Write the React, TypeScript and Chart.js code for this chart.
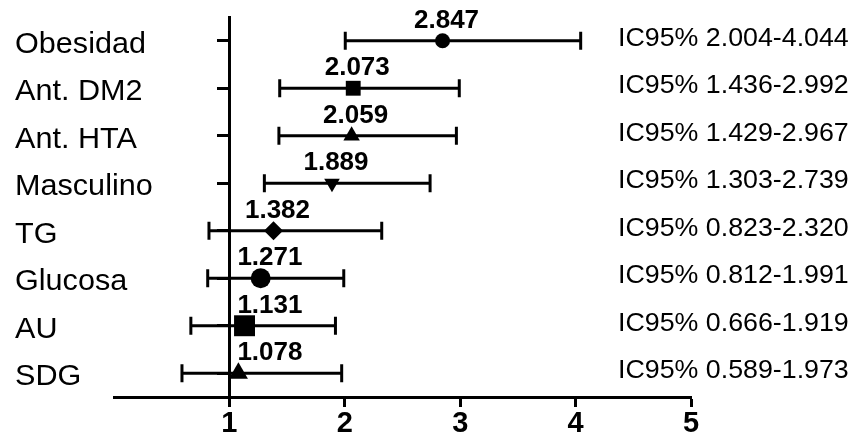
import React, { useEffect, useRef } from "react";
import { Chart, registerables } from "chart.js";

Chart.register(...registerables);

const categories = ["Obesidad", "Ant. DM2", "Ant. HTA", "Masculino", "TG", "Glucosa", "AU", "SDG"];
const oddsRatios = [2.847, 2.073, 2.059, 1.889, 1.382, 1.271, 1.131, 1.078];
const ciLower = [2.004, 1.436, 1.429, 1.303, 0.823, 0.812, 0.666, 0.589];
const ciUpper = [4.044, 2.992, 2.967, 2.739, 2.32, 1.991, 1.919, 1.973];
const xTicks = [1, 2, 3, 4, 5];

const markerStyles = ["circle", "rect", "triangle", "triangle", "rectRot", "circle", "rect", "triangle"];
const markerRadii = [7.5, 10.5, 9.5, 9, 9.5, 10, 14.8, 11];
const markerRotations = [0, 0, 0, 180, 0, 0, 0, 0];

const FONT = "'Liberation Sans', Arial, Helvetica, sans-serif";
const rowOf = (i: number) => categories.length - i;

function drawText(ctx: CanvasRenderingContext2D, text: string, x: number, y: number, font: string, sx: number, align: CanvasTextAlign) {
  ctx.save();
  ctx.font = font;
  ctx.translate(x, y);
  ctx.scale(sx, 1);
  ctx.textAlign = align;
  ctx.textBaseline = "alphabetic";
  ctx.fillStyle = "#000";
  ctx.fillText(text, 0, 0);
  ctx.restore();
}

const labelsPlugin = {
  id: "forestLabels",
  afterDatasetsDraw(chart: any) {
    const ctx: CanvasRenderingContext2D = chart.ctx;
    const xs = chart.scales.x;
    const ys = chart.scales.y;
    const axisX = xs.getPixelForValue(1);
    const catFont = `30px ${FONT}`;
    const valFont = `bold 26px ${FONT}`;
    const icFont = `26px ${FONT}`;
    categories.forEach((cat, i) => {
      const py = ys.getPixelForValue(rowOf(i));
      drawText(ctx, cat, 15, py + 12, catFont, 1.02, "left");
      const txt = oddsRatios[i].toFixed(3);
      ctx.save();
      ctx.font = valFont;
      const w = ctx.measureText(txt).width;
      ctx.restore();
      const px = xs.getPixelForValue(oddsRatios[i]);
      const cx = Math.max(px + 4, axisX + 8 + w / 2);
      drawText(ctx, txt, cx, py - 13, valFont, 1.0, "center");
      const ic = `IC95% ${ciLower[i].toFixed(3)}-${ciUpper[i].toFixed(3)}`;
      drawText(ctx, ic, 618, py + 5, icFont, 1.03, "left");
    });
  },
};

export default function App() {
  const ref = useRef<HTMLCanvasElement | null>(null);
  useEffect(() => {
    if (!ref.current) return;
    const barSets = categories.map((_, i) => ({
      type: "line" as const,
      data: [
        { x: ciLower[i], y: rowOf(i) },
        { x: ciUpper[i], y: rowOf(i) },
      ],
      borderColor: "#000",
      borderWidth: 3,
      backgroundColor: "#000",
      pointStyle: "line",
      pointRotation: 90,
      pointRadius: 9,
      pointBorderWidth: 3,
      pointBorderColor: "#000",
      showLine: true,
      fill: false,
      order: 2,
    }));
    const markerSet = {
      type: "scatter" as const,
      data: oddsRatios.map((v, i) => ({ x: v, y: rowOf(i) })),
      pointStyle: markerStyles,
      pointRadius: markerRadii,
      pointRotation: markerRotations,
      pointBackgroundColor: "#000",
      pointBorderColor: "#000",
      pointBorderWidth: 0,
      order: 1,
    };
    const chart = new Chart(ref.current, {
      type: "scatter",
      data: { datasets: [markerSet as any, ...(barSets as any)] },
      options: {
        animation: false,
        responsive: false,
        maintainAspectRatio: false,
        layout: { padding: { left: 114, right: 166, top: 17, bottom: 0 } },
        plugins: { legend: { display: false }, tooltip: { enabled: false } },
        scales: {
          x: {
            type: "linear",
            min: 0,
            max: 5,
            position: "bottom",
            afterBuildTicks: (s: any) => {
              s.ticks = xTicks.map((v) => ({ value: v }));
            },
            afterFit: (s: any) => {
              s.height = 41;
            },
            ticks: {
              color: "#000",
              font: { family: FONT, size: 29, weight: "bold", lineHeight: 1.1 },
              padding: 1,
              maxRotation: 0,
            },
            grid: { drawOnChartArea: false, drawTicks: true, tickLength: 10, tickWidth: 3, tickColor: "#000" },
            border: { display: true, width: 3, color: "#000" },
          },
          y: {
            type: "linear",
            min: 0.5,
            max: 8.5,
            position: { x: 1 } as any,
            afterBuildTicks: (s: any) => {
              s.ticks = categories.map((_, i) => ({ value: rowOf(i) }));
            },
            ticks: { display: false },
            grid: { drawOnChartArea: false, drawTicks: true, tickLength: 11, tickWidth: 3, tickColor: "#000" },
            border: { display: true, width: 3, color: "#000" },
          },
        },
      },
      plugins: [labelsPlugin],
    });
    return () => chart.destroy();
  }, []);
  return (
    <div style={{ position: "fixed", left: 0, top: 0, width: 857, height: 438, background: "#fff" }}>
      <canvas ref={ref} width={857} height={438} style={{ width: 857, height: 438, display: "block" }} />
    </div>
  );
}
